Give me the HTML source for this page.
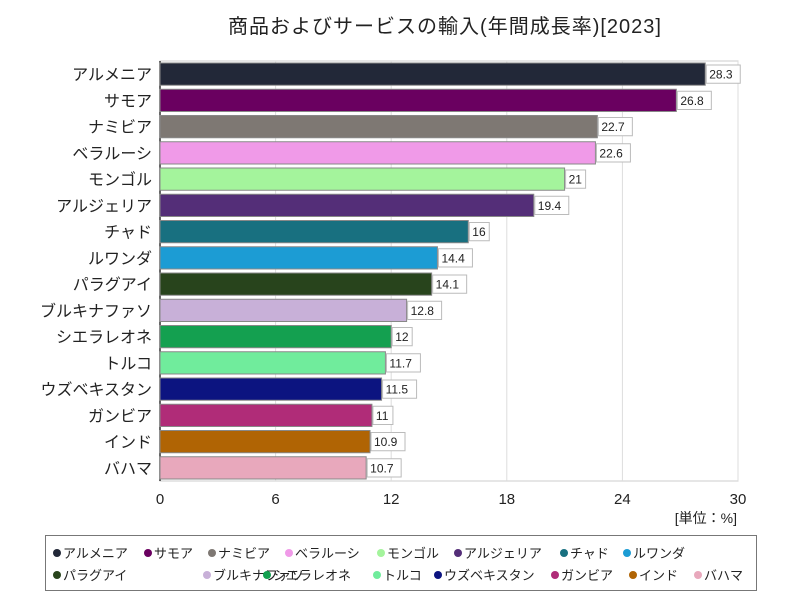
<!DOCTYPE html>
<html><head><meta charset="utf-8">
<style>
body{margin:0;background:#fff;font-family:"Liberation Sans","Noto Sans CJK JP",sans-serif;}
#wrap{position:relative;width:800px;height:600px;}
</style></head>
<body>
<div id="wrap">
<svg id="chart" width="800" height="600"></svg>
</div>
<script>
const categories=["アルメニア","サモア","ナミビア","ベラルーシ","モンゴル","アルジェリア","チャド","ルワンダ","パラグアイ","ブルキナファソ","シエラレオネ","トルコ","ウズベキスタン","ガンビア","インド","バハマ"];
const values=[28.3,26.8,22.7,22.6,21,19.4,16,14.4,14.1,12.8,12,11.7,11.5,11,10.9,10.7];
const valueLabels=["28.3","26.8","22.7","22.6","21","19.4","16","14.4","14.1","12.8","12","11.7","11.5","11","10.9","10.7"];
const colors=["#222838","#6a0060","#7e7873","#f09ae8","#a4f49c","#542e78","#187080","#1c9cd4","#28441c","#c8b0d8","#14a050","#70ec9c","#0c1480","#b02c78","#b06404","#e8a8bc"];
const ticks=[0,6,12,18,24,30];
const ns="http://www.w3.org/2000/svg";
const svg=document.getElementById('chart');
const X0=160,X1=738,Y0=61,Y1=481,MAX=30;
const x=v=>X0+(v/MAX)*(X1-X0);
const rowH=(Y1-Y0)/categories.length;
const y=i=>Y0+i*rowH;
function mk(t,a,p){const e=document.createElementNS(ns,t);for(const k in a)e.setAttribute(k,a[k]);(p||svg).appendChild(e);return e;}
let t=mk('text',{x:445,y:33,'text-anchor':'middle','font-size':20,'letter-spacing':'1',fill:'#222'});t.textContent="商品およびサービスの輸入(年間成長率)[2023]";


let pa=mk('rect',{x:X0,y:Y0,width:X1-X0,height:Y1-Y0,fill:'#fff',stroke:'#ccc'});


ticks.forEach(v=>{
 let g=mk('line',{x1:x(v),x2:x(v),y1:Y0,y2:Y1,stroke:'#ddd'});
 
 
 let l=mk('text',{x:x(v),y:504,'text-anchor':'middle','font-size':15,fill:'#222'});l.textContent=v;
 
 
});
let ax=mk('line',{x1:X0,x2:X0,y1:Y0,y2:Y1,stroke:'#333','stroke-width':1.5});


categories.forEach((c,i)=>{
 const by=y(i)+2,bh=rowH-4;
 let r=mk('rect',{x:X0,y:by,width:x(values[i])-X0,height:bh,fill:colors[i],stroke:'#888','stroke-width':1});
 
 
 let l=mk('text',{x:152,y:by+bh/2+6,'text-anchor':'end','font-size':16,fill:'#222'});l.textContent=c;
 
 
 const lw=valueLabels[i].length*7+6;
 let bx=mk('rect',{x:x(values[i])+1,y:by+2,width:lw,height:bh-4,fill:'#fff',stroke:'#bbb'});
 
 
 let v=mk('text',{x:x(values[i])+4,y:by+bh/2+4.5,'font-size':12,fill:'#222'});v.textContent=valueLabels[i];
 
 
});
let u=mk('text',{x:737,y:523,'text-anchor':'end','font-size':14,fill:'#222'});u.textContent="[単位：%]";


let lb=mk('rect',{x:45.5,y:535.5,width:711,height:55,fill:'#fff',stroke:'#777'});


const rows=[[0,8],[8,16]];
const starts=[[51,142,206,283,375,452,558,621],[51,201,261,371,432,549,627,692]];
rows.forEach((rg,ri)=>{
 for(let i=rg[0];i<rg[1];i++){
  const lx=starts[ri][i-rg[0]],ly=553+ri*22;
  let d=mk('circle',{cx:lx+6,cy:ly,r:4,fill:colors[i]});
  
  
  let tx=mk('text',{x:lx+12,y:ly+5,'font-size':13,fill:'#222'});tx.textContent=categories[i];
  
  
 }
});
</script>
</body></html>
